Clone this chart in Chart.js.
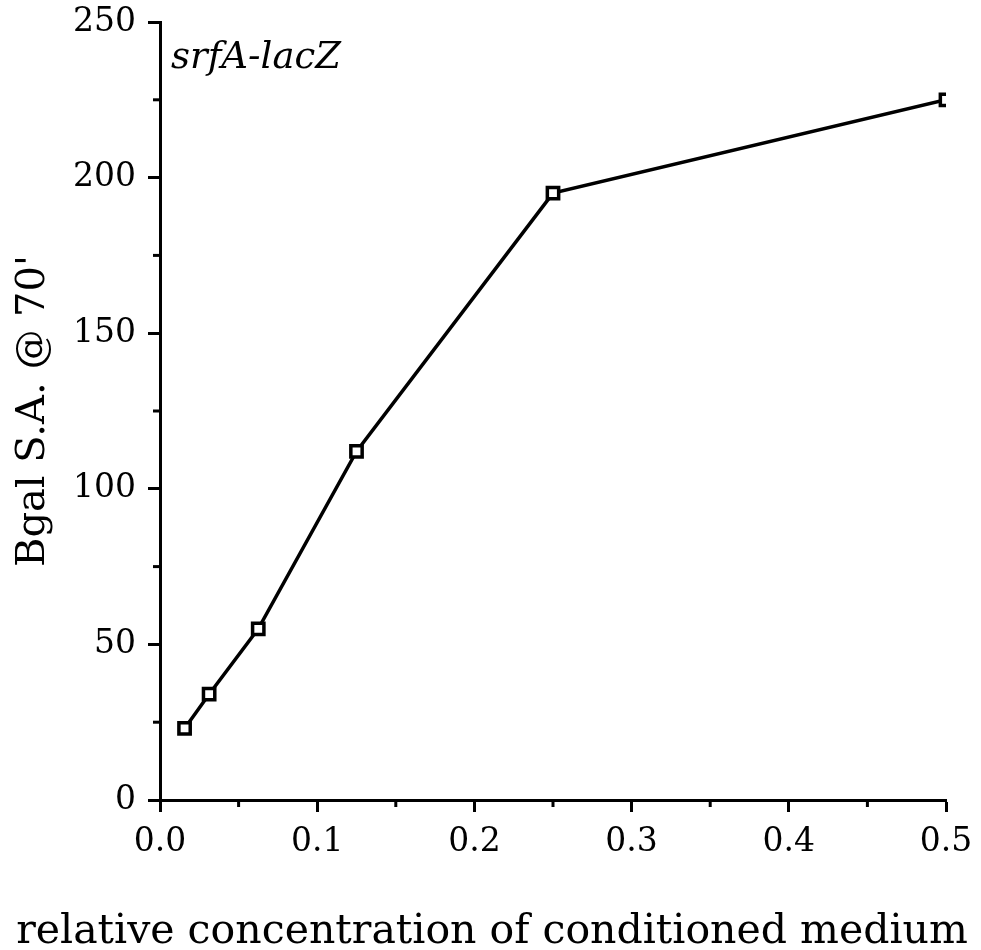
<!DOCTYPE html>
<html><head><meta charset="utf-8">
<script src="https://cdn.jsdelivr.net/npm/chart.js@4.4.0/dist/chart.umd.min.js"></script>
<style>html,body{margin:0;padding:0;background:#fff;}#wrap{width:981px;height:950px;position:relative;}</style>
</head><body><div id="wrap"><canvas id="c" width="981" height="950"></canvas></div>
<script>
const concentration = [0.015625, 0.03125, 0.0625, 0.125, 0.25, 0.5];
const bgalSA = [23, 34, 55, 112, 195, 225];
const xTicks = [0, 0.1, 0.2, 0.3, 0.4, 0.5];
const yTicks = [0, 50, 100, 150, 200, 250];
const xMinor = [0.05, 0.15, 0.25, 0.35, 0.45];
const yMinor = [25, 75, 125, 175, 225];
const label = 'srfA-lacZ';
const xTitle = 'relative concentration of conditioned medium';
const yTitle = "Bgal S.A. @ 70'";

const FONT = 'DejaVu Serif';
const pts = concentration.map((x,i)=>({x:x,y:bgalSA[i]}));

const extras = {
  id:'extras',
  afterDraw(chart){
    const ctx=chart.ctx, xs=chart.scales.x, ys=chart.scales.y;
    const a=chart.chartArea;
    ctx.save();
    ctx.strokeStyle='#000'; ctx.lineWidth=3;
    xMinor.forEach(v=>{const p=xs.getPixelForValue(v);ctx.beginPath();ctx.moveTo(p,a.bottom);ctx.lineTo(p,a.bottom+7);ctx.stroke();});
    yMinor.forEach(v=>{const p=ys.getPixelForValue(v);ctx.beginPath();ctx.moveTo(a.left,p);ctx.lineTo(a.left-7,p);ctx.stroke();});
    ctx.fillStyle='#000';
    ctx.font='italic 37px '+FONT; ctx.textBaseline='alphabetic'; ctx.textAlign='left';
    ctx.fillText(label, a.left+11, a.top+46);
    ctx.font='41px '+FONT; ctx.textAlign='center';
    ctx.fillText(xTitle, 492, 943);
    ctx.restore();
  }
};

new Chart(document.getElementById('c'), {
  type:'scatter',
  data:{datasets:[
    {data:pts, showLine:true, borderColor:'#000', borderWidth:3.5, pointStyle:'rect', pointRadius:8, pointBorderWidth:3.5, pointBackgroundColor:'#fff', pointBorderColor:'#000'},
    {data:pts, showLine:false, pointStyle:'rect', pointRadius:1.7, pointBorderWidth:0, pointBackgroundColor:'#000'}
  ]},
  options:{
    responsive:false, animation:false, devicePixelRatio:1,
    layout:{padding:{top:22,right:35,left:0,bottom:0}},
    plugins:{legend:{display:false},tooltip:{enabled:false}},
    scales:{
      x:{type:'linear',min:0,max:0.5,
        afterBuildTicks(s){s.ticks=xTicks.map(v=>({value:v}));},
        afterFit(s){s.height=150;s.paddingLeft=0;s.paddingRight=0;},
        ticks:{color:'#000',font:{family:FONT,size:33},padding:11,callback:v=>v.toFixed(1),maxRotation:0},
        grid:{drawOnChartArea:false,tickLength:12,tickWidth:3,tickColor:'#000'},
        border:{color:'#000',width:3},
        title:{display:false}
      },
      y:{type:'linear',min:0,max:250,
        afterBuildTicks(s){s.ticks=yTicks.map(v=>({value:v}));},
        afterFit(s){s.width=160;s.paddingTop=0;s.paddingBottom=0;},
        ticks:{color:'#000',font:{family:FONT,size:33},padding:12},
        grid:{drawOnChartArea:false,tickLength:12,tickWidth:3,tickColor:'#000'},
        border:{color:'#000',width:3},
        title:{display:true,text:yTitle,color:'#000',font:{family:FONT,size:40},padding:{top:10,bottom:4}}
      }
    }
  },
  plugins:[extras]
});
</script></body></html>
